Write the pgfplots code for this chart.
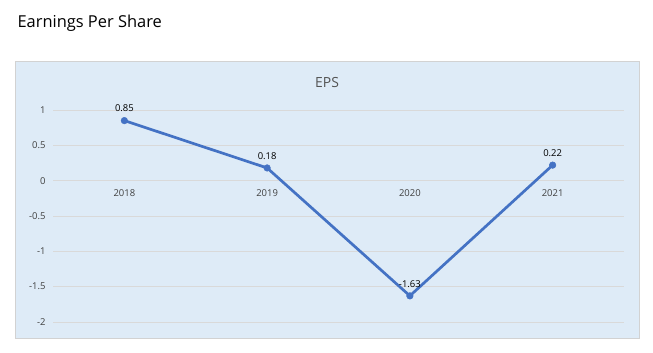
\documentclass[border=0pt]{standalone}
\usepackage{fontspec}
\setmainfont{Open Sans}
\usepackage{pgfplots}
\pgfplotsset{compat=1.18}
\definecolor{bgblue}{RGB}{222,235,247}
\definecolor{framegray}{RGB}{210,210,210}
\definecolor{gridgray}{RGB}{217,217,217}
\definecolor{lineblue}{RGB}{68,114,196}
\definecolor{txt}{RGB}{64,64,64}
\begin{document}
\begin{tikzpicture}[x=1bp,y=1bp]
\path[use as bounding box,fill=white] (0,0) rectangle (653,352);
\draw[framegray,fill=bgblue,line width=0.75bp] (15,14) rectangle (639,291);
\node[anchor=west,font=\fontsize{16.5}{19}\selectfont,text=black] at (14,329) {Earnings Per Share};
\node[font=\fontsize{14}{16}\selectfont,text=txt!90] at (327,269) {EPS};
\begin{axis}[
  at={(53bp,30bp)}, anchor=south west,
  scale only axis, width=571bp, height=212bp,
  xmin=-0.5, xmax=3.5, ymin=-2, ymax=1,
  axis x line=middle, axis y line=left,
  axis line style={draw=none},
  xtick={0,1,2,3}, xticklabels={2018,2019,2020,2021},
  ytick={-2,-1.5,-1,-0.5,0,0.5,1},
  yticklabels={-2,-1.5,-1,-0.5,0,0.5,1},
  major tick length=0pt,
  xtick style={draw=none}, ytick style={draw=none},
  xmajorgrids=false, ymajorgrids=true,
  major grid style={gridgray,line width=0.75bp},
  tick label style={font=\fontsize{9.5}{11}\selectfont,text=txt},
  xticklabel style={yshift=-5bp},
  yticklabel style={xshift=-4bp},
  clip=false,
]
\addplot[lineblue, line width=2.7bp, mark=*, mark size=3.3bp, mark options={fill=lineblue,draw=lineblue,line width=0.5bp},
  nodes near coords, point meta=explicit symbolic,
  every node near coord/.append style={font=\fontsize{9.5}{11}\selectfont,text=black,anchor=south,yshift=5bp}]
  coordinates {(0,0.85) [0.85] (1,0.18) [0.18] (2,-1.63) [-1.63] (3,0.22) [0.22]};
\end{axis}
\end{tikzpicture}
\end{document}
